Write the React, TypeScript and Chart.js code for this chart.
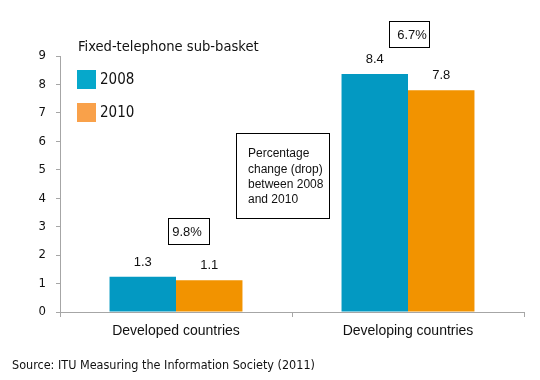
import React, { useEffect, useRef } from "react";
import { Chart, registerables } from "chart.js";

Chart.register(...registerables);

const categories = ["Developed countries", "Developing countries"];
const seriesNames = ["2008", "2010"];
const values2008 = [1.24, 8.37];
const values2010 = [1.12, 7.8];
const valueLabels2008 = ["1.3", "8.4"];
const valueLabels2010 = ["1.1", "7.8"];
const changeLabels = ["9.8%", "6.7%"];
const chartTitle = "Fixed-telephone sub-basket";
const noteLines = ["Percentage", "change (drop)", "between 2008", "and 2010"];
const sourceText = "Source: ITU Measuring the Information Society (2011)";

const barColors = ["#0399C2", "#F29300"];
const legendColors = ["#06A8CB", "#F9A14A"];

const TAHOMA = '"DejaVu Sans Condensed", "DejaVu Sans", sans-serif';
const CALIBRI = '"Liberation Sans", Arial, sans-serif';

const overlayPlugin = {
  id: "overlay",
  afterDraw(chart: any) {
    const ctx = chart.ctx as CanvasRenderingContext2D;
    ctx.save();
    ctx.fillStyle = "#111";
    // value labels
    const allLabels = [valueLabels2008, valueLabels2010];
    ctx.font = `13px ${CALIBRI}`;
    ctx.textAlign = "center";
    ctx.textBaseline = "middle";
    chart.data.datasets.forEach((_: any, di: number) => {
      const meta = chart.getDatasetMeta(di);
      meta.data.forEach((el: any, i: number) => {
        ctx.fillText(allLabels[di][i], el.x, el.y - 14.5);
      });
    });

    // title
    ctx.textAlign = "left";
    ctx.font = `14.6px ${TAHOMA}`;
    ctx.fillText(chartTitle, 78, 47);

    // legend
    seriesNames.forEach((name, i) => {
      const y = 70 + i * 33;
      ctx.fillStyle = legendColors[i];
      ctx.fillRect(77, y, 19, 19);
      ctx.fillStyle = "#111";
      ctx.font = `15px ${TAHOMA}`;
      ctx.fillText(name, 100, y + 10);
    });

    // change boxes
    const boxes = [
      { x: 168.5, y: 218.5, w: 41, h: 26, tx: 187 },
      { x: 389.5, y: 21.5, w: 40, h: 26, tx: 412 },
    ];
    ctx.strokeStyle = "#000";
    ctx.lineWidth = 1;
    boxes.forEach((b, i) => {
      ctx.strokeRect(b.x, b.y, b.w, b.h);
      ctx.font = `13px ${CALIBRI}`;
      ctx.textAlign = "center";
      ctx.fillText(changeLabels[i], b.tx, b.y + b.h / 2 + 0.5);
    });

    // note box
    ctx.strokeRect(236.5, 133.5, 93, 85);
    ctx.font = `12px ${CALIBRI}`;
    ctx.textAlign = "left";
    noteLines.forEach((line, i) => {
      ctx.fillText(line, 248, 154 + i * 15.2);
    });

    // source
    ctx.font = `12.5px ${TAHOMA}`;
    ctx.fillText(sourceText, 12, 366);
    ctx.restore();
  },
};

export default function App() {
  const ref = useRef<HTMLCanvasElement | null>(null);

  useEffect(() => {
    if (!ref.current) return;
    const chart = new Chart(ref.current, {
      type: "bar",
      data: {
        labels: categories,
        datasets: [
          {
            label: seriesNames[0],
            data: values2008,
            backgroundColor: barColors[0],
            borderWidth: 0,
          },
          {
            label: seriesNames[1],
            data: values2010,
            backgroundColor: barColors[1],
            borderWidth: 0,
          },
        ],
      },
      options: {
        responsive: false,
        animation: false,
        devicePixelRatio: 1,
        layout: { padding: { top: 56, right: 16, left: 0, bottom: 0 } },
        plugins: {
          legend: { display: false },
          tooltip: { enabled: false },
          title: { display: false },
        },
        datasets: {
          bar: { categoryPercentage: 0.573, barPercentage: 1.0 },
        },
        scales: {
          x: {
            afterFit: (scale: any) => {
              scale.height = 68;
            },
            grid: {
              offset: true,
              drawOnChartArea: false,
              drawTicks: true,
              tickLength: 5,
              color: "#A6A6A6",
            },
            border: { color: "#A6A6A6", width: 1 },
            ticks: {
              color: "#111",
              font: { family: CALIBRI, size: 14 },
              padding: 6,
              maxRotation: 0,
            },
          },
          y: {
            min: 0,
            max: 9,
            afterFit: (scale: any) => {
              scale.width = 60;
            },
            grid: {
              drawOnChartArea: false,
              drawTicks: true,
              tickLength: 4,
              color: "#A6A6A6",
            },
            border: { color: "#A6A6A6", width: 1 },
            ticks: {
              stepSize: 1,
              color: "#111",
              font: { family: TAHOMA, size: 13 },
              padding: 10,
            },
          },
        },
      },
      plugins: [overlayPlugin],
    });
    return () => chart.destroy();
  }, []);

  return (
    <div
      style={{
        position: "fixed",
        left: 0,
        top: 0,
        width: 540,
        height: 380,
        background: "#fff",
      }}
    >
      <canvas ref={ref} width={540} height={380} />
    </div>
  );
}
